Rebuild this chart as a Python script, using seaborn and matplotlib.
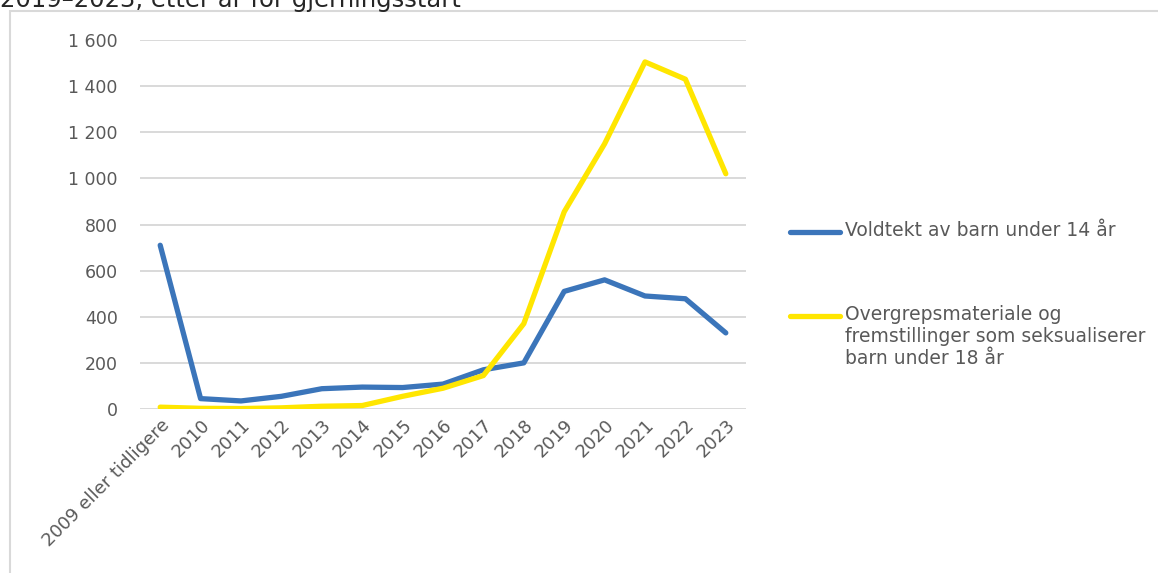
import matplotlib
matplotlib.use("Agg")
import matplotlib.pyplot as plt
import matplotlib.ticker as mticker
from matplotlib.lines import Line2D
from matplotlib.patches import Rectangle
import pandas as pd
import seaborn as sns

# ── Data ──────────────────────────────────────────────────────────────────────
years = ["2009 eller tidligere", "2010", "2011", "2012", "2013", "2014", "2015",
         "2016", "2017", "2018", "2019", "2020", "2021", "2022", "2023"]
voldtekt = [710, 45, 35, 55, 88, 95, 93, 108, 170, 200, 510, 560, 490, 478, 330]
overgrep = [8, 3, 2, 5, 12, 15, 55, 90, 145, 370, 855, 1150, 1505, 1430, 1020]

series_names = ["Voldtekt av barn under 14 år",
                "Overgrepsmateriale og\nfremstillinger som seksualiserer\nbarn under 18 år"]
colors = ["#3B75BA", "#FFE600"]
title = "2019–2023, etter år for gjerningsstart"

df = pd.DataFrame({
    "år": years * 2,
    "antall": voldtekt + overgrep,
    "serie": [series_names[0]] * len(years) + [series_names[1]] * len(years),
})

# ── Figure ────────────────────────────────────────────────────────────────────
sns.set_style("white")
plt.rcParams["font.family"] = ["DejaVu Sans"]
txt = "#595959"

fig = plt.figure(figsize=(11.58, 5.73), dpi=100)
ax = fig.add_axes([140 / 1158, 1 - 409 / 573, 606 / 1158, 369 / 573])

sns.lineplot(data=df, x="år", y="antall", hue="serie", palette=colors,
             linewidth=3.8, sort=False, legend=False, ax=ax,
             solid_capstyle="round", solid_joinstyle="round")

ax.set_xlim(-0.5, len(years) - 0.5)
ax.set_ylim(0, 1600)
ax.yaxis.set_major_locator(mticker.MultipleLocator(200))
ax.yaxis.set_major_formatter(
    mticker.FuncFormatter(lambda v, _: f"{int(v):,}".replace(",", " ")))
ax.grid(axis="y", color="#D9D9D9", linewidth=1.4)
ax.set_axisbelow(True)
for s in ax.spines.values():
    s.set_visible(False)
ax.set_xlabel(""); ax.set_ylabel("")
ax.tick_params(axis="y", length=0, colors=txt, labelsize=12.5, pad=16)
ax.tick_params(axis="x", length=0, colors=txt, labelsize=13, pad=5)
plt.setp(ax.get_xticklabels(), rotation=45, ha="right", va="top",
         rotation_mode="anchor")

# ── Legend (manual, Excel style) ──────────────────────────────────────────────
leg_y = [1 - 232 / 573, 1 - 316 / 573]
for name, c, y in zip(series_names, colors, leg_y):
    fig.add_artist(Line2D([790 / 1158, 840 / 1158], [y, y], color=c,
                          linewidth=3.8, solid_capstyle="round"))
    fig.text(845 / 1158, y + 11 / 573, name, ha="left", va="top", color=txt,
             fontsize=13.5, linespacing=1.2)

# ── Chart frame and (cropped) title ───────────────────────────────────────────
fig.add_artist(Rectangle((10 / 1158, -0.1), 1.2, 1 - 11 / 573 + 0.1,
                         transform=fig.transFigure, fill=False,
                         edgecolor="#D9D9D9", linewidth=1.5))
fig.text(0.0, 1 - 7 / 573, title, ha="left", va="baseline",
         fontsize=17.5, color="#262626")

fig.savefig("out.png", dpi=100)
